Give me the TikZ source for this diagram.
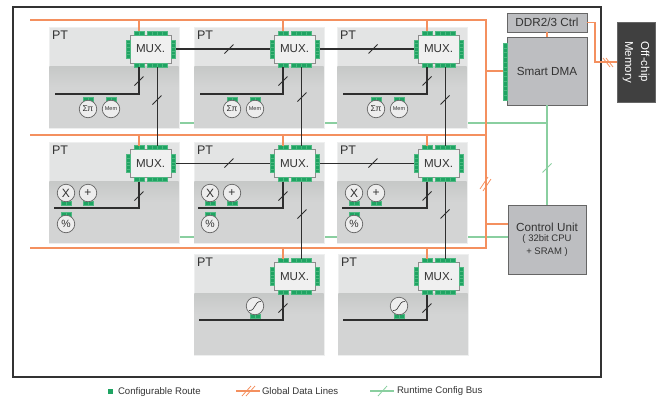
\documentclass[tikz,border=0pt]{standalone}
\usepackage{fontspec}
\setmainfont{Liberation Sans}
\definecolor{txt}{HTML}{333333}
\definecolor{orl}{HTML}{F4905F}
\definecolor{grl}{HTML}{8ACFA0}
\definecolor{padg}{HTML}{1FA463}
\definecolor{padl}{HTML}{4DB881}
\definecolor{wirec}{HTML}{2E2E2E}
\definecolor{ptop}{HTML}{E3E4E4}
\definecolor{pmid}{HTML}{C6C8C7}
\definecolor{pbot}{HTML}{D3D4D4}
\definecolor{sysbox}{HTML}{BDBEC1}
\newcommand{\fs}[1]{\fontsize{#1}{#1}\selectfont}
\tikzset{
  x=1pt,y=-1pt,
  every node/.style={inner sep=0pt,outer sep=0pt,text=txt},
  orange line/.style={draw=orl,line width=1.2pt},
  green line/.style={draw=grl,line width=1.2pt},
  wire/.style={draw=wirec,line width=1.5pt},
  ptbox/.style={anchor=north west,minimum width=130,minimum height=101,fill=ptop,draw=ptop!60!white,line width=.5pt},
  muxbox/.style={minimum width=41,minimum height=28,fill=white!94!black,draw=black!45,line width=.9pt,font=\fs{11.6}},
  sysnode/.style={anchor=north west,fill=sysbox,draw=black!60,line width=.8pt,font=\fs{11.7}},
  fu/.style={circle,minimum size=17.5,fill=white!93!black,draw=black!60,line width=.7pt},
  cellstyle/.style={fill=padg,draw=padl,line width=.25pt},
  tick/.style={line width=.8pt},
}
% horizontal run of cells: x, y, number, cell width
\newcommand{\hpad}[4]{\foreach \i in {1,...,#3}{\path[cellstyle] ({#1+(\i-1)*#4},#2) rectangle ++(#4,4);}}
% vertical run of cells: x, y, number, cell height
\newcommand{\vpad}[4]{\foreach \i in {1,...,#3}{\path[cellstyle] (#1,{#2+(\i-1)*#4}) rectangle ++(4,#4);}}
\newcommand{\ptpanel}[3]{%
  \node[ptbox] (#1) at (#2,#3) {};
  \shade[top color=pmid,bottom color=pbot,shading angle=0] (#2+.3,#3+39) rectangle (#2+129.7,#3+60);
  \fill[pbot] (#2+.3,#3+60) rectangle (#2+129.7,#3+100.7);
  \node[anchor=north west,font=\fs{12.5}] (#1t) at (#2+3,#3+4) {PT};
}
\newcommand{\muxunit}[3]{%
  \node[muxbox] (#1) at (#2,#3) {MUX.};
  \begin{scope}[shift={(#1.north west)}]
    \hpad{4}{-4}{2}{5}\hpad{17}{-4}{4}{5}
    \hpad{4}{28}{2}{5}\hpad{17}{28}{4}{5}
    \vpad{-4}{5}{5}{3.6}\vpad{41}{5}{5}{3.6}
  \end{scope}
}
\newcommand{\wslash}[3]{\draw[tick,draw=#3] (#1-4.5,#2+4.5) -- (#1+4.5,#2-4.5);}
\begin{document}
\begin{tikzpicture}
\useasboundingbox (0,0) rectangle (661,397);
% frame
\node[anchor=north west,minimum width=588,minimum height=370,draw=black!80,line width=1.3pt] (frame) at (13,7) {};
% coordinates for bus corners
\coordinate (otl) at (30,20);
\coordinate (otr) at (486,20);
\coordinate (oml) at (30,135);
\coordinate (omr) at (486,135);
\coordinate (obl) at (30,248);
\coordinate (obr) at (486,248);
\coordinate (g1) at (547,123);
\coordinate (g2) at (508,237);
% system blocks
\node[sysnode,minimum width=80,minimum height=19] (ddr) at (507,13) {DDR2/3 Ctrl};
\node[sysnode,minimum width=80,minimum height=68] (dma) at (507,37) {Smart DMA};
\node[sysnode,minimum width=78,minimum height=69,align=center] (cu) at (508,205) {Control Unit\\[-1pt]{\fs{9.5}( 32bit CPU}\\[1pt]{\fs{9.5}+ SRAM )}};
\node[anchor=north west,minimum width=38,minimum height=80,fill=black!75,draw=black!60,line width=.5pt] (off) at (617,22) {};
\node[rotate=-90,align=center,text=white,font=\fontsize{11.5}{16}\selectfont] (offt) at (636,62) {Off-chip\\Memory};
\coordinate (bend) at (595,62);
% green bus
\draw[green line] (dma.south) -- (cu.north);
\draw[green line] (49,123) -- (g1);
\draw[green line] (49,237) -- (g2);
% PT panels
\ptpanel{p11}{49}{27}
\ptpanel{p12}{194}{27}
\ptpanel{p13}{337}{27}
\ptpanel{p21}{49}{142}
\ptpanel{p22}{194}{142}
\ptpanel{p23}{337}{142}
\ptpanel{p32}{194}{254}
\ptpanel{p33}{338}{254}
% orange bus
\draw[orange line] (otl) -- (otr) -- (obr) -- (obl);
\draw[orange line] (oml) -- (omr);
\draw[orange line] (omr |- dma.west) -- (dma.west);
\draw[orange line] (omr |- 0,224) -- (cu.west |- 0,224);
\draw[orange line] (ddr.south) -- (dma.north);
\draw[orange line] (ddr.east) -| (bend) -- (off.west |- bend);
% MUX units
\muxunit{m11}{150.5}{49}
\muxunit{m12}{294.5}{49}
\muxunit{m13}{438.5}{49}
\muxunit{m21}{150.5}{163.5}
\muxunit{m22}{294.5}{163.5}
\muxunit{m23}{438.5}{163.5}
\muxunit{m32}{294.5}{276.5}
\muxunit{m33}{438.5}{276.5}
% orange stubs
\foreach \m/\o in {m11/otl,m12/otl,m13/otl,m21/oml,m22/oml,m23/oml,m32/obl,m33/obl}{
  \coordinate (stub) at ([xshift=-11.5,yshift=4]\m.north);
  \draw[orange line] (stub |- \o) -- (stub);
}
% horizontal wires
\foreach \a/\b in {m11/m12,m12/m13,m21/m22,m22/m23}{
  \draw[wire] ([xshift=5]\a.east) -- ([xshift=-4]\b.west);
}
% vertical wires
\foreach \a/\b in {m11/m21,m12/m22,m13/m23,m22/m32,m23/m33}{
  \draw[wire] ([xshift=7,yshift=-4]\a.south) -- ([xshift=7,yshift=4]\b.north);
}
% local buses
\coordinate (b11) at (55,94);
\coordinate (b12) at (200,94);
\coordinate (b13) at (343,94);
\coordinate (b21) at (54,208);
\coordinate (b22) at (198,208);
\coordinate (b23) at (342,208);
\coordinate (b32) at (199,320);
\coordinate (b33) at (343,320);
\foreach \m/\b in {m11/b11,m12/b12,m13/b13,m21/b21,m22/b22,m23/b23,m32/b32,m33/b33}{
  \draw[wire] ([xshift=-11.5,yshift=-4]\m.south) |- (\b);
}
% bus width ticks
\foreach \x/\y in {139/81,283/81,427/81,139/196,283/196,427/196,283/308,427/308,
  157/100,302/97,445/100,302/214,445/214,229/49,373/49,229/163,373/163}{
  \wslash{\x}{\y}{wirec}
}
\wslash{547}{168}{grl}
\draw[tick,draw=orl] (480,189) -- (488,177);
\draw[tick,draw=orl] (483,191) -- (491,179);
\draw[tick,draw=orl] (603,58) -- (610,67);
\draw[tick,draw=orl] (606,58) -- (613,67);
% DMA pads
\vpad{503}{43}{12}{4.75}
% function units, row 1
\foreach \c/\t/\f/\n in {88/{Σπ}/8.5/a,111/Mem/5.5/b,232/{Σπ}/8.5/c,255/Mem/5.5/d,376/{Σπ}/8.5/e,399/Mem/5.5/f}{
  \hpad{\c-5}{97}{2}{5}
  \node[fu,font=\fs{\f}] (fu\n) at (\c,109) {\t};
}
% function units, row 2
\foreach \c/\n in {66/a,210/b,354/c}{
  \hpad{\c-5}{201}{2}{5}
  \hpad{\c+17}{201}{2}{5}
  \hpad{\c-5}{212}{2}{5}
  \node[fu,font=\fs{12}] (x\n) at (\c,193) {X};
  \node[fu,font=\fs{12}] (plus\n) at (\c+22,193) {+};
  \node[fu,font=\fs{10.5}] (pct\n) at (\c,224) {\%};
}
% function units, row 3
\foreach \c/\n in {255/a,399/b}{
  \hpad{\c-5}{314}{2}{5}
  \node[fu] (sig\n) at (\c,306) {};
  \draw[black!80,line width=.6pt] ([xshift=-6,yshift=-4.5]sig\n.center) .. controls ([xshift=1,yshift=-5]sig\n.center) and ([xshift=-1,yshift=5]sig\n.center) .. ([xshift=6,yshift=4.5]sig\n.center);
}
% legend
\node[minimum size=5,fill=padg] (lgsq) at (110,391) {};
\node[anchor=west,font=\fs{9.6}] (lgt1) at (118,391.7) {Configurable Route};
\coordinate (lo1) at (236,391);
\coordinate (lo2) at (260,391);
\draw[orange line] (lo1) -- (lo2);
\draw[tick,draw=orl] (242,396) -- (251,386);
\draw[tick,draw=orl] (246,396) -- (255,386);
\node[anchor=west,font=\fs{9.6}] (lgt2) at (262,391.2) {Global Data Lines};
\coordinate (lg1) at (370,391);
\coordinate (lg2) at (394,391);
\draw[green line] (lg1) -- (lg2);
\draw[tick,draw=grl] (378,396) -- (387,386);
\node[anchor=west,font=\fs{9.6}] (lgt3) at (397,391.2) {Runtime Config Bus};
\end{tikzpicture}
\end{document}
